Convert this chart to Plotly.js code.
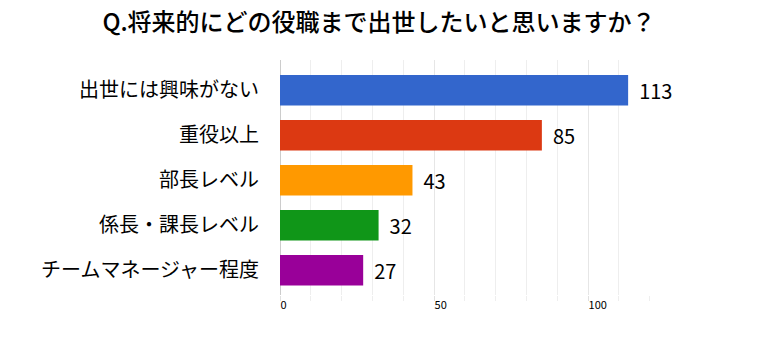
<!DOCTYPE html>
<html><head><meta charset="utf-8">
<script src="https://cdn.plot.ly/plotly-3.0.1.min.js"></script>
<style>html,body{margin:0;padding:0;background:#fff}</style>
</head><body>
<div id="chart" style="width:758px;height:360px"></div>
<script>
const categories = ["出世には興味がない", "重役以上", "部長レベル", "係長・課長レベル", "チームマネージャー程度"];
const values = [113, 85, 43, 32, 27];
const colors = ["#3366cc", "#dc3912", "#ff9900", "#109618", "#990099"];
const titleText = "Q.将来的にどの役職まで出世したいと思いますか？";
const font = "'Noto Sans CJK JP', 'Noto Sans', sans-serif";

const trace = {
  type: "bar",
  orientation: "h",
  x: values,
  y: categories,
  marker: {color: colors},
  width: 0.68,
  text: values.map(v => "\u2009\u2009" + v),
  textposition: "outside",
  textfont: {size: 20, color: "#000", family: font},
  cliponaxis: false,
  hoverinfo: "none"
};

const layout = {
  width: 758, height: 360,
  margin: {l: 280, r: 108, t: 60, b: 65},
  paper_bgcolor: "#fff", plot_bgcolor: "#fff",
  font: {family: font, color: "#000"},
  title: {text: titleText, font: {size: 24, color: "#000", family: font, weight: 500}, x: 0.5, xanchor: "center", y: 0.938, yanchor: "middle"},
  showlegend: false,
  xaxis: {
    range: [0, 120.1],
    dtick: 50, tick0: 0,
    showgrid: true, gridcolor: "#e6e6e6",
    ticks: "outside", ticklen: 5, tickcolor: "#e0e0e0",
    minor: {dtick: 10, showgrid: true, gridcolor: "#eeeeee", ticks: "outside", ticklen: 5, tickcolor: "#eeeeee"},
    zeroline: true, zerolinecolor: "#cccccc",
    ticklabelposition: "outside right",
    tickfont: {size: 11, color: "#000"},
    showline: false, fixedrange: true
  },
  yaxis: {
    type: "category",
    range: [4.549, -0.673],
    showgrid: false, zeroline: false,
    ticks: "outside", ticklen: 16, tickcolor: "rgba(0,0,0,0)",
    tickfont: {size: 20, color: "#000"},
    fixedrange: true
  }
};

Plotly.newPlot("chart", [trace], layout, {displayModeBar: false, staticPlot: true});
</script>
</body></html>
